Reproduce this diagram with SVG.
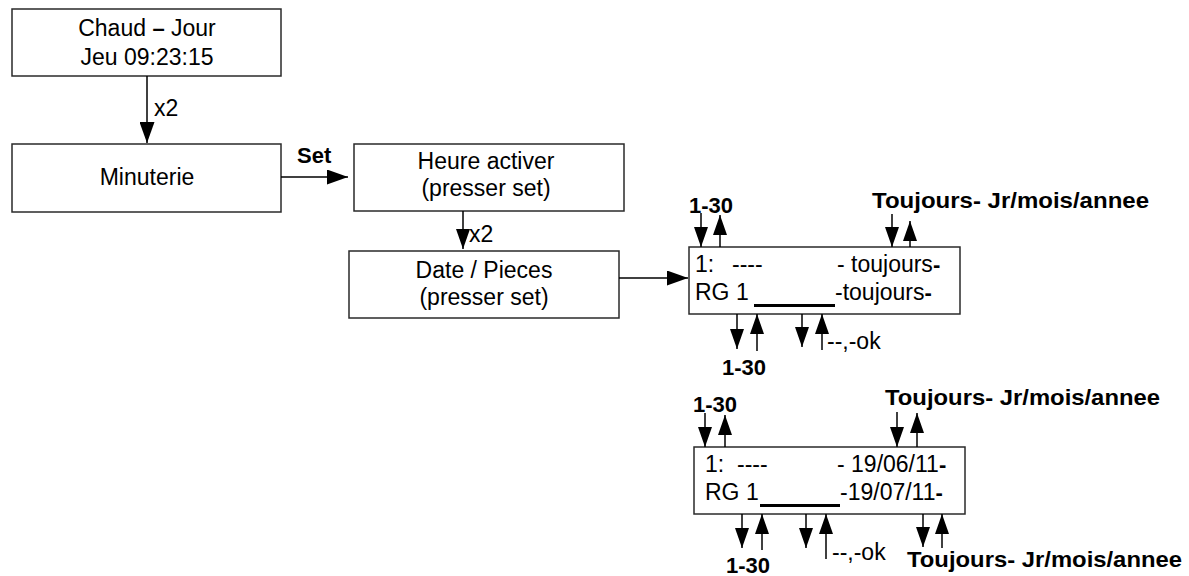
<svg xmlns="http://www.w3.org/2000/svg" width="1189" height="576" viewBox="0 0 1189 576">
  <style>
    .box { fill: #ffffff; stroke: #2a2a2a; stroke-width: 1.5; }
    .t { font-family: "Liberation Sans", Arial, sans-serif; font-size: 23px; fill: #000; }
    .c { text-anchor: middle; }
    .b { font-weight: bold; font-size: 22px; }
    .ln { stroke: #000; stroke-width: 1.5; fill: none; marker-end: url(#head); }
    .ul { fill: #000; }
  </style>
  <defs>
    <marker id="head" markerUnits="userSpaceOnUse" markerWidth="21" markerHeight="15" refX="21" refY="7.5" orient="auto">
      <path d="M0,0 L21,7.5 L0,15 z" fill="#000"/>
    </marker>
    <marker id="headS" markerUnits="userSpaceOnUse" markerWidth="20" markerHeight="14" refX="20" refY="7" orient="auto">
      <path d="M0,0 L20,7 L0,14 z" fill="#000"/>
    </marker>
  </defs>

  <rect width="1189" height="576" fill="#ffffff"/>

  <!-- status screen -->
  <g id="n-status">
    <rect class="box" x="12" y="9" width="269" height="67"/>
    <text class="t c" x="147" y="36">Chaud <tspan class="b">–</tspan> Jour</text>
    <text class="t c" x="147" y="65">Jeu 09:23:15</text>
  </g>

  <!-- timer menu -->
  <g id="n-minuterie">
    <rect class="box" x="12" y="144" width="269" height="68"/>
    <text class="t c" x="147" y="185">Minuterie</text>
  </g>

  <g id="n-heure">
    <rect class="box" x="354" y="144" width="270" height="67"/>
    <text class="t c" x="486" y="169">Heure activer</text>
    <text class="t c" x="486" y="196">(presser set)</text>
  </g>

  <g id="n-date">
    <rect class="box" x="349" y="251" width="270" height="67"/>
    <text class="t c" x="484" y="278">Date / Pieces</text>
    <text class="t c" x="484" y="305">(presser set)</text>
  </g>

  <!-- program display, "toujours" mode -->
  <g id="n-display1">
    <rect class="box" x="689" y="247" width="271" height="67"/>
    <text class="t" x="695" y="272">1:</text>
    <text class="t" x="732" y="272">----</text>
    <text class="t" x="837" y="272">- toujours<tspan class="b">-</tspan></text>
    <text class="t" x="695" y="300">RG 1</text>
    <rect class="ul" x="754" y="304" width="81" height="3"/>
    <text class="t" x="835" y="300">-toujours<tspan class="b">-</tspan></text>
    <text class="t b" x="689" y="213">1-30</text>
    <text class="t b" x="872" y="208" textLength="277" lengthAdjust="spacingAndGlyphs">Toujours- Jr/mois/annee</text>
    <text class="t b" x="722" y="375">1-30</text>
    <text class="t" x="827" y="349">--,-ok</text>
  </g>

  <!-- program display, date mode -->
  <g id="n-display2">
    <rect class="box" x="694" y="447" width="271" height="67"/>
    <text class="t" x="705" y="472">1:</text>
    <text class="t" x="737" y="472">----</text>
    <text class="t" x="837" y="472">- 19/06/11<tspan class="b">-</tspan></text>
    <text class="t" x="705" y="500">RG 1</text>
    <rect class="ul" x="760" y="504" width="80" height="3"/>
    <text class="t" x="840" y="500">-19/07/11<tspan class="b">-</tspan></text>
    <text class="t b" x="693" y="412">1-30</text>
    <text class="t b" x="885" y="405" textLength="275" lengthAdjust="spacingAndGlyphs">Toujours- Jr/mois/annee</text>
    <text class="t b" x="726" y="573">1-30</text>
    <text class="t" x="832" y="560">--,-ok</text>
    <text class="t b" x="907" y="567" textLength="275" lengthAdjust="spacingAndGlyphs">Toujours- Jr/mois/annee</text>
  </g>

  <g id="connectors">
    <!-- menu flow -->
    <line class="ln" x1="147" y1="76" x2="147" y2="143"/>
    <text class="t" x="154" y="116">x2</text>
    <line class="ln" x1="281" y1="177" x2="348" y2="177"/>
    <text class="t b" x="297" y="163">Set</text>
    <line class="ln" x1="463" y1="211" x2="463" y2="249" style="marker-end:url(#headS)"/>
    <text class="t" x="469" y="242">x2</text>
    <line class="ln" x1="619" y1="278" x2="688" y2="278"/>

    <!-- display 1 keys -->
    <line class="ln" x1="701" y1="213" x2="701" y2="247" style="marker-end:url(#headS)"/>
    <line class="ln" x1="720" y1="247" x2="720" y2="215" style="marker-end:url(#headS)"/>
    <line class="ln" x1="892" y1="214" x2="892" y2="247" style="marker-end:url(#headS)"/>
    <line class="ln" x1="910" y1="247" x2="910" y2="221" style="marker-end:url(#headS)"/>
    <line class="ln" x1="737" y1="314" x2="737" y2="349" style="marker-end:url(#headS)"/>
    <line class="ln" x1="757" y1="351" x2="757" y2="314" style="marker-end:url(#headS)"/>
    <line class="ln" x1="802" y1="314" x2="802" y2="347" style="marker-end:url(#headS)"/>
    <line class="ln" x1="822" y1="350" x2="822" y2="314" style="marker-end:url(#headS)"/>

    <!-- display 2 keys -->
    <line class="ln" x1="705" y1="413" x2="705" y2="447" style="marker-end:url(#headS)"/>
    <line class="ln" x1="725" y1="447" x2="725" y2="415" style="marker-end:url(#headS)"/>
    <line class="ln" x1="897" y1="412" x2="897" y2="447" style="marker-end:url(#headS)"/>
    <line class="ln" x1="917" y1="447" x2="917" y2="413" style="marker-end:url(#headS)"/>
    <line class="ln" x1="742" y1="514" x2="742" y2="548" style="marker-end:url(#headS)"/>
    <line class="ln" x1="762" y1="550" x2="762" y2="514" style="marker-end:url(#headS)"/>
    <line class="ln" x1="806" y1="514" x2="806" y2="548" style="marker-end:url(#headS)"/>
    <line class="ln" x1="826" y1="559" x2="826" y2="514" style="marker-end:url(#headS)"/>
    <line class="ln" x1="923" y1="514" x2="923" y2="547" style="marker-end:url(#headS)"/>
    <line class="ln" x1="942" y1="548" x2="942" y2="514" style="marker-end:url(#headS)"/>
  </g>
</svg>
